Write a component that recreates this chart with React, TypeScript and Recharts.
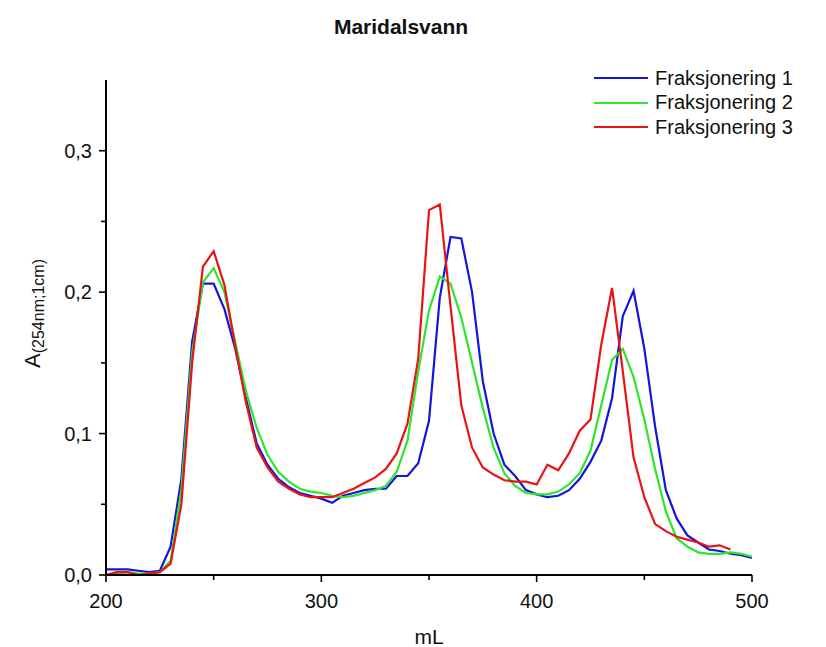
import { LineChart, Line, XAxis, YAxis, Legend } from 'recharts';

// elution volume (mL), one reading every 5 mL
const mL = [
  200, 205, 210, 215, 220, 225, 230, 235, 240, 245, 250, 255, 260, 265, 270, 275, 280, 285, 290, 295,
  300, 305, 310, 315, 320, 325, 330, 335, 340, 345, 350, 355, 360, 365, 370, 375, 380, 385, 390, 395,
  400, 405, 410, 415, 420, 425, 430, 435, 440, 445, 450, 455, 460, 465, 470, 475, 480, 485, 490, 495,
  500,
];

const fraksjonering1 = [
  0.004, 0.004, 0.004, 0.003, 0.002, 0.003, 0.02, 0.068, 0.165, 0.206, 0.206, 0.188, 0.16, 0.125, 0.093,
  0.078, 0.068, 0.062, 0.058, 0.056, 0.054, 0.051, 0.056, 0.058, 0.06, 0.061, 0.061, 0.07, 0.07, 0.079,
  0.109, 0.196, 0.239, 0.238, 0.2, 0.137, 0.1, 0.078, 0.07, 0.06, 0.057, 0.055, 0.056, 0.06, 0.068,
  0.08, 0.095, 0.125, 0.183, 0.201, 0.16, 0.105, 0.06, 0.04, 0.028, 0.023, 0.018, 0.017, 0.015, 0.014,
  0.012,
];

const fraksjonering2 = [
  0.0, 0.001, 0.002, 0.001, 0.001, 0.002, 0.01, 0.06, 0.157, 0.207, 0.217, 0.2, 0.165, 0.13, 0.104,
  0.085, 0.073, 0.066, 0.061, 0.059, 0.058, 0.056, 0.055, 0.056, 0.058, 0.06, 0.063, 0.073, 0.095, 0.144,
  0.187, 0.211, 0.206, 0.182, 0.15, 0.118, 0.09, 0.072, 0.063, 0.058, 0.057, 0.057, 0.059, 0.064, 0.072,
  0.088, 0.12, 0.152, 0.16, 0.14, 0.11, 0.075, 0.045, 0.026, 0.02, 0.016, 0.015, 0.015, 0.016, 0.015,
  0.013,
];

// last reading at 490 mL
const fraksjonering3 = [
  0.0, 0.002, 0.002, 0.0, 0.001, 0.002, 0.008, 0.05, 0.15, 0.218, 0.229, 0.205, 0.162, 0.122, 0.09,
  0.076, 0.066, 0.061, 0.057, 0.055, 0.055, 0.055, 0.058, 0.061, 0.065, 0.069, 0.075, 0.086, 0.107, 0.153,
  0.258, 0.262, 0.19, 0.12, 0.09, 0.076, 0.071, 0.067, 0.066, 0.066, 0.064, 0.078, 0.074, 0.086, 0.102,
  0.11, 0.163, 0.203, 0.144, 0.083, 0.055, 0.036, 0.031, 0.027, 0.025, 0.023, 0.02, 0.021, 0.018,
];

const xTicks = [200, 250, 300, 350, 400, 450, 500];
const yTicks = [0, 0.05, 0.1, 0.15, 0.2, 0.25, 0.3];

const FONT = '"Liberation Sans", Arial, sans-serif';

const toPoints = (vals: number[]) => vals.map((v, i) => ({ x: mL[i], a: v }));
const comma = (v: number) => v.toFixed(1).replace('.', ',');

const XTick = (props: any) => {
  const { x, y, payload } = props;
  const major = payload.value % 100 === 0;
  return (
    <g>
      <line x1={x} x2={x} y1={y} y2={y + (major ? 7 : 5)} stroke="#000" strokeWidth={1.6} />
      {major && (
        <text x={x} y={y + 33} textAnchor="middle" fontSize={20} fontFamily={FONT} fill="#111">
          {payload.value}
        </text>
      )}
    </g>
  );
};

const YTick = (props: any) => {
  const { x, y, payload } = props;
  const major = Math.round(payload.value * 100) % 10 === 0;
  return (
    <g>
      <line x1={x - (major ? 7 : 5)} x2={x} y1={y} y2={y} stroke="#000" strokeWidth={1.6} />
      {major && (
        <text x={x - 14} y={y + 7} textAnchor="end" fontSize={20} fontFamily={FONT} fill="#111">
          {comma(payload.value)}
        </text>
      )}
    </g>
  );
};

const LegendBox = ({ payload }: any) => (
  <div style={{ fontFamily: FONT, fontSize: 20, color: '#111' }}>
    {(payload || []).map((p: any) => (
      <div key={p.value} style={{ display: 'flex', alignItems: 'center', height: 24.5 }}>
        <span style={{ display: 'inline-block', width: 54, height: 0, borderTop: `2.5px solid ${p.color}`, marginRight: 7 }} />
        {p.value}
      </div>
    ))}
  </div>
);

export default function App() {
  return (
    <div style={{ position: 'relative', width: 810, height: 640 }}>
      <div
        style={{
          position: 'absolute',
          top: 8,
          left: 0,
          width: 786,
          textAlign: 'center',
          fontFamily: FONT,
          fontWeight: 'bold',
          fontSize: 21,
          lineHeight: '22px',
          color: '#111',
        }}
      >
        Maridalsvann
      </div>
      <LineChart width={810} height={640} margin={{ top: 72, right: 66, bottom: 0, left: 0 }}>
        <XAxis
          dataKey="x"
          type="number"
          domain={[200, 500]}
          ticks={xTicks}
          allowDataOverflow
          height={73}
          tickLine={false}
          tickSize={0}
          tickMargin={0}
          tick={<XTick />}
          axisLine={{ stroke: '#000', strokeWidth: 2 }}
          label={{
            content: ({ viewBox }: any) => (
              <text
                x={viewBox.x + viewBox.width / 2}
                y={viewBox.y + 69}
                textAnchor="middle"
                fontSize={21}
                fontFamily={FONT}
                fill="#111"
              >
                mL
              </text>
            ),
          }}
        />
        <YAxis
          type="number"
          domain={[0, 0.35]}
          ticks={yTicks}
          allowDataOverflow
          width={98}
          tickLine={false}
          tickSize={0}
          tickMargin={0}
          tick={<YTick />}
          axisLine={{ stroke: '#000', strokeWidth: 2 }}
          label={{
            content: ({ viewBox }: any) => {
              const cx = 32;
              const cy = viewBox.y + viewBox.height / 2 - 14;
              return (
                <text
                  x={cx}
                  y={cy}
                  transform={`rotate(-90, ${cx}, ${cy})`}
                  textAnchor="middle"
                  fontFamily={FONT}
                  fill="#111"
                >
                  <tspan fontSize={22}>A</tspan>
                  <tspan fontSize={16} dy={4}>(254nm;1cm)</tspan>
                </text>
              );
            },
          }}
        />
        <Legend
          layout="vertical"
          align="center"
          verticalAlign="middle"
          content={<LegendBox />}
          wrapperStyle={{ position: 'absolute', top: 58, left: 586, width: 220 }}
        />
        <Line
          data={toPoints(fraksjonering1)}
          dataKey="a"
          name="Fraksjonering 1"
          type="linear"
          stroke="#1414dc"
          strokeWidth={2.2}
          dot={false}
          isAnimationActive={false}
        />
        <Line
          data={toPoints(fraksjonering2)}
          dataKey="a"
          name="Fraksjonering 2"
          type="linear"
          stroke="#2ee52e"
          strokeWidth={2.2}
          dot={false}
          isAnimationActive={false}
        />
        <Line
          data={toPoints(fraksjonering3)}
          dataKey="a"
          name="Fraksjonering 3"
          type="linear"
          stroke="#e81414"
          strokeWidth={2.2}
          dot={false}
          isAnimationActive={false}
        />
      </LineChart>
    </div>
  );
}
